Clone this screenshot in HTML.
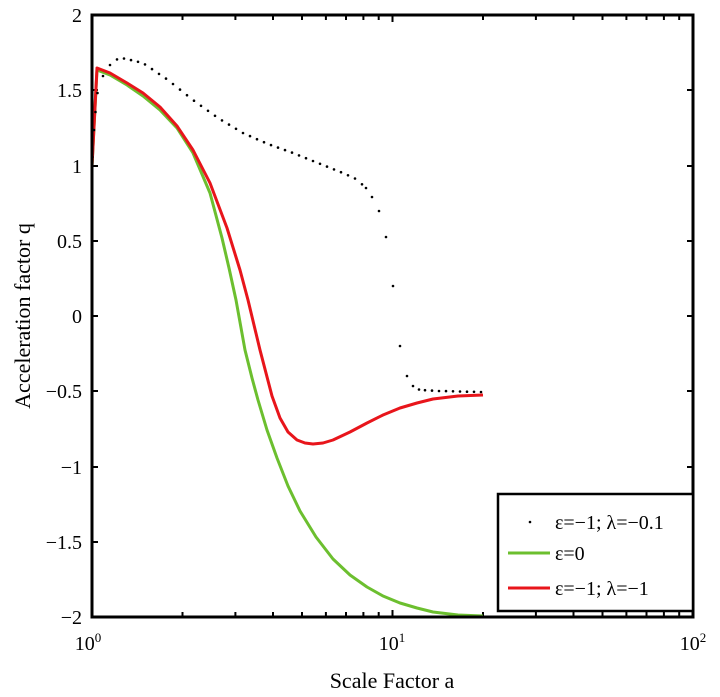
<!DOCTYPE html>
<html><head><meta charset="utf-8"><style>
body{margin:0;background:#fff;}
svg{display:block;font-family:"Liberation Serif",serif;}
</style></head><body>
<svg width="720" height="697" viewBox="0 0 720 697" xmlns="http://www.w3.org/2000/svg">
<rect width="720" height="697" fill="#fff"/>
<g stroke="#000" stroke-width="2">
<path d="M92 15h6M92 90h6M92 166h6M92 241h6M92 316h6M92 391h6M92 467h6M92 542h6M92 617h6
M693 15h-6M693 90h-6M693 166h-6M693 241h-6M693 316h-6M693 391h-6M693 467h-6M693 542h-6M693 617h-6"/>
<path d="M182.5 617v-5M235.4 617v-5M273 617v-5M302 617v-5M325.9 617v-5M346 617v-5M363.4 617v-5M378.7 617v-5M392.5 617v-7
M483 617v-5M535.9 617v-5M573.5 617v-5M602.5 617v-5M626.4 617v-5M646.5 617v-5M663.9 617v-5M679.2 617v-5
M182.5 15v5M235.4 15v5M273 15v5M302 15v5M325.9 15v5M346 15v5M363.4 15v5M378.7 15v5M392.5 15v7
M483 15v5M535.9 15v5M573.5 15v5M602.5 15v5M626.4 15v5M646.5 15v5M663.9 15v5M679.2 15v5"/>
</g>
<polyline fill="none" stroke="#6cbf2f" stroke-width="3" stroke-linejoin="round" points="92,166 97,70 110,75 127,85 143,96 160,110 177,128 193,153 210,193 222,238 229,268 236,300 245,350 252,378 258,400 267,430 277,458 288,486 300,511 316,537 333,559 350,575 367,587 383,596 400,603 417,608 433,612 458,615 483,616"/>
<polyline fill="none" stroke="#e8151b" stroke-width="3" stroke-linejoin="round" points="92,166 97,68 110,73 127,83 143,93 160,107 177,126 193,150 210,183 227,228 240,270 248,300 260,350 272,396 280,418 288,432 297,440 305,443 313,444 323,443 333,440 350,432 367,423 383,415 400,408 417,403 433,399 458,396 483,395"/>
<g fill="#000">
<circle cx="92.5" cy="157" r="1.3"/><circle cx="94" cy="130" r="1.3"/><circle cx="95.5" cy="112" r="1.3"/><circle cx="97.5" cy="93" r="1.3"/>
<circle cx="103" cy="76" r="1.3"/><circle cx="110" cy="65" r="1.3"/><circle cx="117" cy="59.4" r="1.3"/><circle cx="124" cy="58.5" r="1.3"/><circle cx="131" cy="60.1" r="1.3"/><circle cx="138" cy="61.8" r="1.3"/><circle cx="145" cy="64.4" r="1.3"/><circle cx="152" cy="69.1" r="1.3"/><circle cx="159" cy="73.9" r="1.3"/><circle cx="166" cy="78.6" r="1.3"/><circle cx="173" cy="84" r="1.3"/><circle cx="180" cy="89.6" r="1.3"/><circle cx="187" cy="95.2" r="1.3"/><circle cx="194" cy="100.7" r="1.3"/><circle cx="201" cy="105.8" r="1.3"/><circle cx="208" cy="110.8" r="1.3"/><circle cx="215" cy="115.8" r="1.3"/><circle cx="222" cy="120.4" r="1.3"/><circle cx="229" cy="124.6" r="1.3"/><circle cx="236" cy="128.8" r="1.3"/><circle cx="243" cy="133" r="1.3"/><circle cx="250" cy="136.1" r="1.3"/><circle cx="257" cy="139.2" r="1.3"/><circle cx="264" cy="142.2" r="1.3"/><circle cx="271" cy="145.1" r="1.3"/><circle cx="278" cy="147.6" r="1.3"/><circle cx="285" cy="150.1" r="1.3"/><circle cx="292" cy="152.6" r="1.3"/><circle cx="299" cy="155.4" r="1.3"/><circle cx="306" cy="158.2" r="1.3"/><circle cx="313" cy="161" r="1.3"/><circle cx="320" cy="163.8" r="1.3"/><circle cx="327" cy="166.6" r="1.3"/><circle cx="334" cy="169.4" r="1.3"/><circle cx="341" cy="172.2" r="1.3"/><circle cx="348" cy="175.3" r="1.3"/><circle cx="355" cy="178.5" r="1.3"/><circle cx="362" cy="184.3" r="1.3"/><circle cx="366" cy="188" r="1.3"/><circle cx="372" cy="197" r="1.3"/><circle cx="379" cy="211" r="1.3"/><circle cx="386" cy="237" r="1.3"/><circle cx="393" cy="286" r="1.3"/><circle cx="400" cy="346" r="1.3"/><circle cx="407" cy="376" r="1.3"/><circle cx="413" cy="386" r="1.3"/><circle cx="419" cy="389.5" r="1.3"/><circle cx="425" cy="390.2" r="1.3"/><circle cx="432" cy="390.6" r="1.3"/><circle cx="439" cy="391" r="1.3"/><circle cx="446" cy="391.1" r="1.3"/><circle cx="453" cy="391.3" r="1.3"/><circle cx="460" cy="391.5" r="1.3"/><circle cx="467" cy="391.7" r="1.3"/><circle cx="474" cy="391.8" r="1.3"/><circle cx="481" cy="392" r="1.3"/>
</g>
<rect x="92" y="15" width="601" height="602" fill="none" stroke="#000" stroke-width="3"/>
<g font-size="20" text-anchor="end" fill="#000">
<text x="82" y="22">2</text><text x="82" y="97">1.5</text><text x="82" y="173">1</text><text x="82" y="248">0.5</text><text x="82" y="323">0</text><text x="82" y="398">−0.5</text><text x="82" y="474">−1</text><text x="82" y="549">−1.5</text><text x="82" y="624">−2</text>
</g>
<g font-size="20" fill="#000" text-anchor="middle">
<text x="88" y="650">10<tspan font-size="13" dy="-8">0</tspan></text>
<text x="392" y="650">10<tspan font-size="13" dy="-8">1</tspan></text>
<text x="693" y="650">10<tspan font-size="13" dy="-8">2</tspan></text>
<text x="392" y="688" font-size="22">Scale Factor a</text>
<text transform="translate(30,316) rotate(-90)" font-size="22">Acceleration factor q</text>
</g>
<rect x="498" y="494" width="195" height="117" fill="#fff" stroke="#000" stroke-width="2.5"/>
<circle cx="530" cy="522" r="1.3" fill="#000"/>
<line x1="508" y1="553" x2="550" y2="553" stroke="#6cbf2f" stroke-width="3"/>
<line x1="508" y1="588" x2="550" y2="588" stroke="#e8151b" stroke-width="3"/>
<g font-size="20" fill="#000">
<text x="555" y="529">ε=−1; λ=−0.1</text>
<text x="555" y="560">ε=0</text>
<text x="555" y="595">ε=−1; λ=−1</text>
</g>
</svg>
</body></html>
